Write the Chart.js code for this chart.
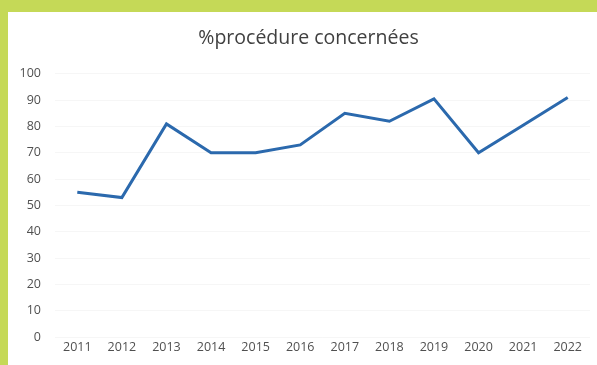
<!DOCTYPE html>
<html>
<head>
<meta charset="utf-8">
<script src="https://cdn.jsdelivr.net/npm/chart.js@4"></script>
<style>
  html, body { margin: 0; padding: 0; background: #ffffff; }
  #wrap { width: 597px; height: 365px; position: relative; }
</style>
</head>
<body>
<div id="wrap"><canvas id="c" width="597" height="365"></canvas></div>
<script>
// Years on the horizontal axis
const years = ['2011', '2012', '2013', '2014', '2015', '2016', '2017', '2018', '2019', '2020', '2021', '2022'];
// Share of procedures concerned (%)
const pctProcedures = [55, 53, 81, 70, 70, 73, 85, 82, 90.5, 70, 80.5, 91];
// Vertical axis bounds and step
const yMin = 0;
const yMax = 100;
const yStep = 10;

// Lime frame along the top and left edges of the page
const framePlugin = {
  id: 'frame',
  beforeDraw(chart) {
    const ctx = chart.ctx;
    ctx.save();
    ctx.fillStyle = '#ffffff';
    ctx.fillRect(0, 0, chart.width, chart.height);
    ctx.fillStyle = '#c5d957';
    ctx.fillRect(0, 0, chart.width, 12);
    ctx.fillRect(0, 0, 8, chart.height);
    ctx.restore();
  }
};

// Centre the title over the plot area rather than the whole canvas
const titleCentrePlugin = {
  id: 'titleCentre',
  afterLayout(chart) {
    const t = chart.titleBlock;
    if (t) {
      t.left = chart.chartArea.left - 28;
      t.right = chart.chartArea.right;
      t.width = t.right - t.left;
    }
  }
};

const fontFamily = '"Open Sans", "Liberation Sans", sans-serif';

new Chart(document.getElementById('c'), {
  type: 'line',
  data: {
    labels: years,
    datasets: [{
      label: '%procédure concernées',
      data: pctProcedures,
      borderColor: '#2b69ad',
      backgroundColor: '#2b69ad',
      borderWidth: 3,
      pointRadius: 0,
      tension: 0,
      fill: false
    }]
  },
  options: {
    responsive: false,
    animation: false,
    layout: { padding: { left: 0, right: 7, top: 0, bottom: 0 } },
    plugins: {
      legend: { display: false },
      tooltip: { enabled: false },
      title: {
        display: true,
        text: '%procédure concernées',
        color: '#404040',
        font: { family: fontFamily, size: 19.5, weight: 'normal' },
        padding: { top: 27, bottom: 23.5 }
      }
    },
    scales: {
      x: {
        offset: true,
        grid: { display: false, drawTicks: false },
        border: { display: false },
        ticks: {
          color: '#505050',
          font: { family: fontFamily, size: 12.5 },
          padding: 3,
          maxRotation: 0,
          autoSkip: false
        },
        afterFit(scale) { scale.height = 28; }
      },
      y: {
        min: yMin,
        max: yMax,
        grid: { color: 'rgba(0,0,0,0.035)', drawTicks: false },
        border: { display: false },
        ticks: {
          stepSize: yStep,
          color: '#505050',
          font: { family: fontFamily, size: 12.5 },
          padding: 14
        },
        afterFit(scale) { scale.width = 55; }
      }
    }
  },
  plugins: [framePlugin, titleCentrePlugin]
});
</script>
</body>
</html>
